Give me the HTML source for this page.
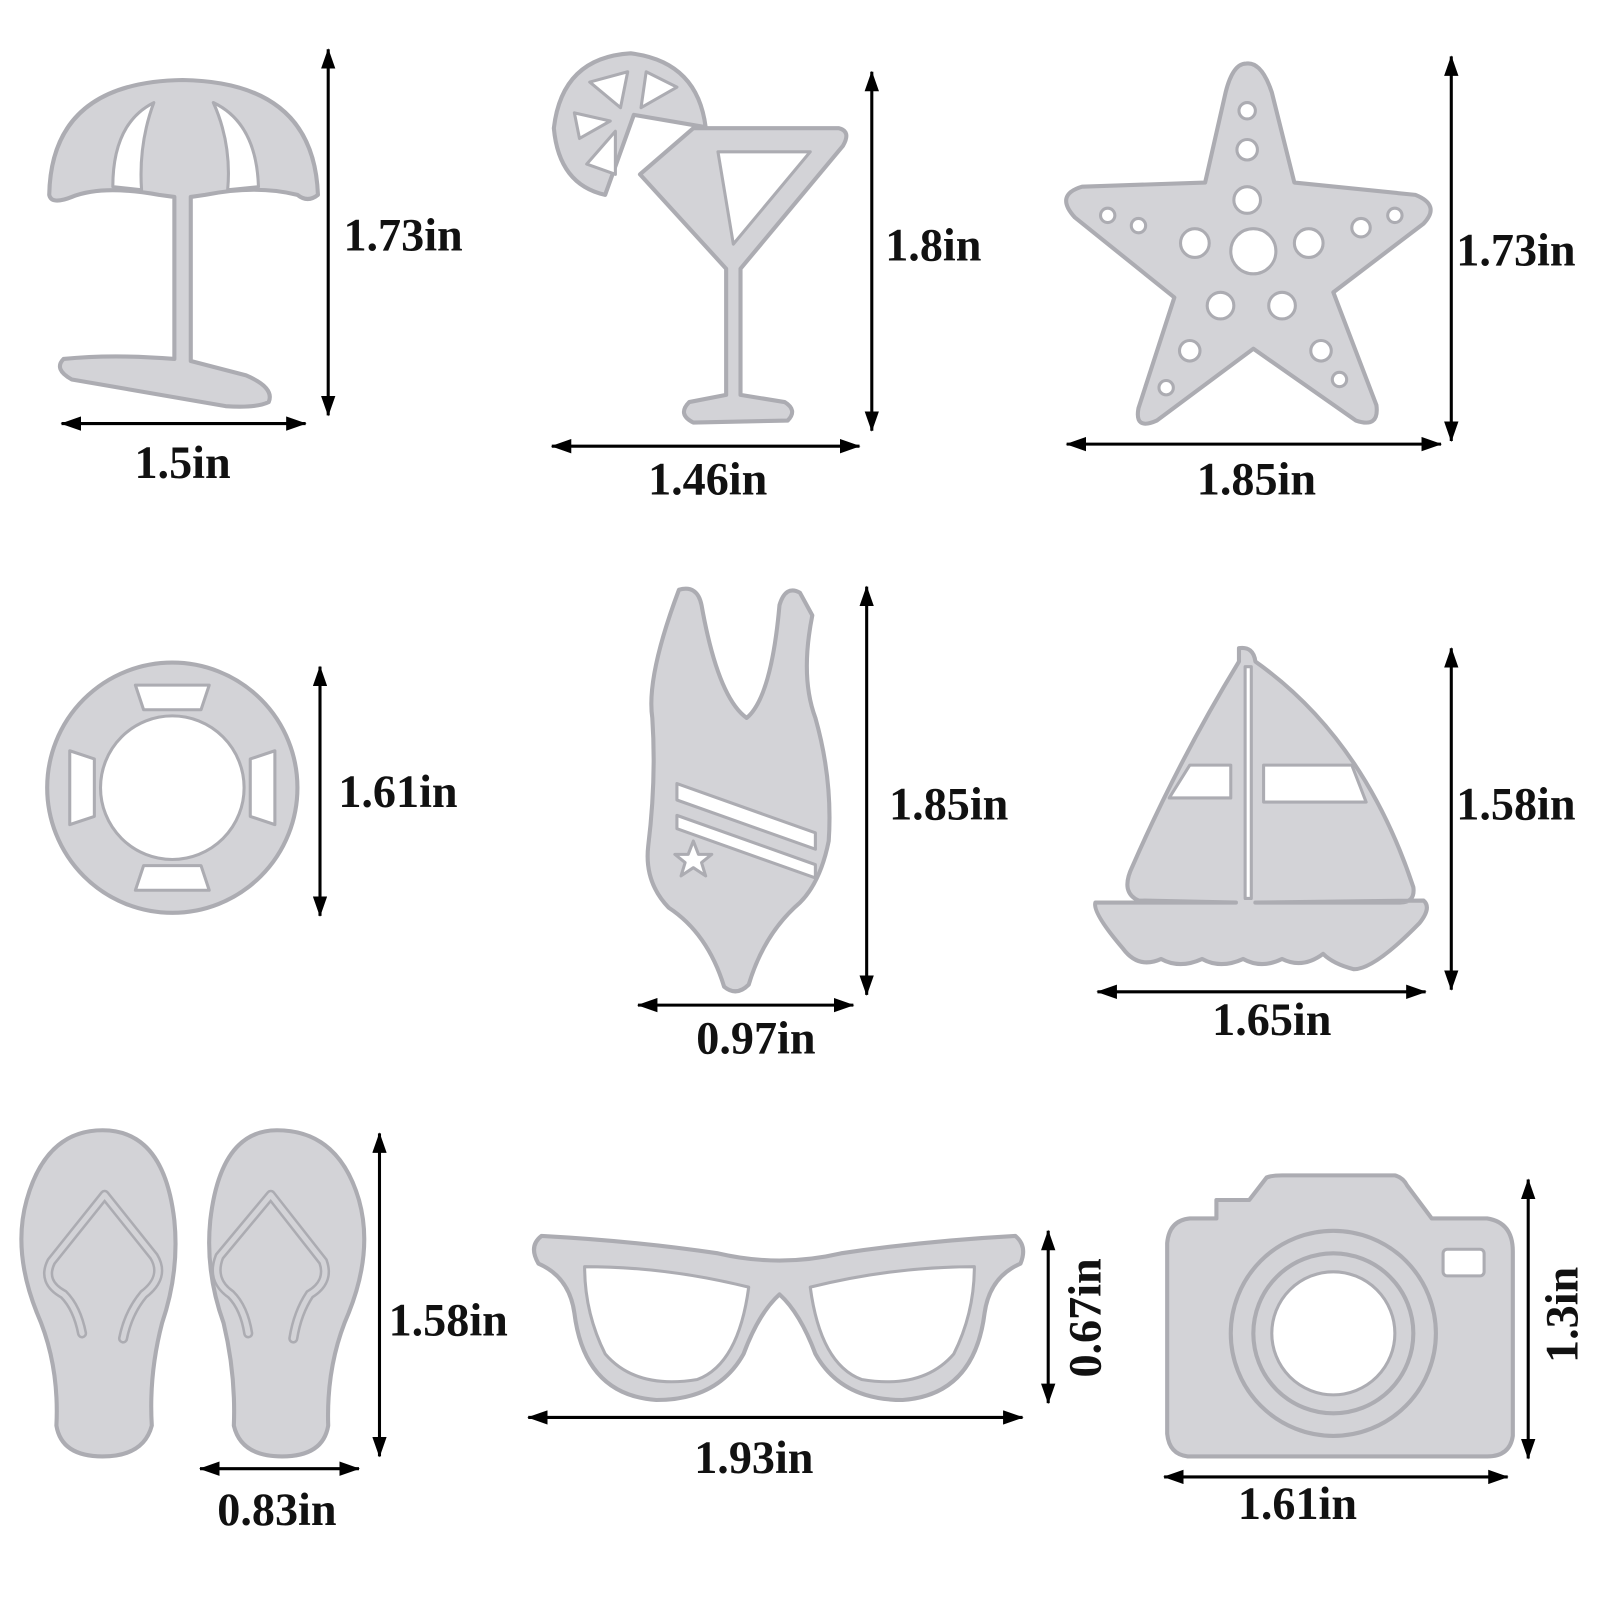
<!DOCTYPE html>
<html><head><meta charset="utf-8"><style>
html,body{margin:0;padding:0;background:#fff;}
svg{display:block;}
text{font-family:"Liberation Serif",serif;font-weight:bold;font-size:45px;fill:#111;text-anchor:middle;}
.m{fill:#d3d3d7;stroke:#acacb2;stroke-width:4;stroke-linejoin:round;}
.h{fill:#fff;stroke:#acacb2;stroke-width:3;stroke-linejoin:round;}
.l{stroke:#000;stroke-width:3;}
</style></head><body>
<svg width="1600" height="1600" viewBox="0 0 1560 1560" xmlns="http://www.w3.org/2000/svg">
<defs>
<marker id="a" viewBox="0 0 20 14" refX="19" refY="7" markerWidth="20" markerHeight="14" markerUnits="userSpaceOnUse" orient="auto-start-reverse"><path d="M0,0 L20,7 L0,14 Z" fill="#000"/></marker>
</defs>
<!-- umbrella -->
<path class="m" d="M48,190 Q50,80 178,78 Q306,80 310,190 Q300,198 290,190 Q250,180 200,190 L186,192 L186,352 L240,366 Q268,378 262,392 Q250,398 220,396 L70,370 Q52,360 62,350 Q110,345 170,350 L170,192 L155,190 Q100,180 70,192 Q50,200 48,190 Z"/>
<path class="h" d="M110,182 Q110,120 150,100 Q135,140 138,185 Z"/>
<path class="h" d="M222,185 Q226,140 208,100 Q250,120 252,182 Z"/>
<!-- cocktail -->
<path class="m" d="M676,125 L818,125 Q830,128 822,142 L722,262 L722,385 L765,392 Q778,400 768,410 L676,412 Q660,404 672,392 L708,385 L708,262 L624,170 L676,125 Z"/>
<path class="h" d="M700,148 L790,148 L715,238 Z"/>
<path class="m" d="M618,112 L688,124 Q680,60 615,52 Q548,56 540,125 Q545,180 590,190 Z"/>
<path class="h" d="M612,70 L605,105 L575,80 Z M630,70 L660,85 L625,105 Z M560,110 L595,118 L565,135 Z M572,160 L600,128 L600,170 Z"/>
<!-- starfish -->
<path class="m" d="M1215,62 Q1230,60 1240,90 L1262,178 L1380,190 Q1405,200 1388,218 L1300,285 L1342,395 Q1345,418 1322,410 L1222,340 L1128,410 Q1106,420 1110,398 L1145,290 L1048,212 Q1028,190 1055,182 L1175,178 L1195,90 Q1202,62 1215,62 Z"/>
<g class="h"><circle cx="1216" cy="108" r="8"/><circle cx="1216" cy="146" r="10"/><circle cx="1216" cy="195" r="13"/><circle cx="1222" cy="245" r="22"/><circle cx="1165" cy="237" r="14"/><circle cx="1276" cy="237" r="14"/><circle cx="1190" cy="298" r="13"/><circle cx="1250" cy="298" r="13"/><circle cx="1160" cy="342" r="10"/><circle cx="1288" cy="342" r="10"/><circle cx="1137" cy="378" r="7"/><circle cx="1306" cy="370" r="7"/><circle cx="1080" cy="210" r="7"/><circle cx="1110" cy="220" r="7"/><circle cx="1327" cy="222" r="9"/><circle cx="1360" cy="210" r="7"/></g>
<!-- life ring -->
<circle class="m" cx="168" cy="768" r="122"/>
<circle class="h" cx="168" cy="768" r="70"/>
<path class="h" d="M132,668 L204,668 L196,692 L140,692 Z M132,868 L204,868 L196,844 L140,844 Z M68,732 L68,804 L92,796 L92,740 Z M268,732 L268,804 L244,796 L244,740 Z"/>
<!-- swimsuit -->
<path class="m" d="M662,575 Q680,570 684,590 Q700,680 728,700 Q752,680 760,590 Q766,570 780,578 L792,600 Q780,660 795,700 Q812,760 808,820 Q800,860 780,880 Q745,910 730,960 Q718,972 706,962 Q690,910 652,885 Q628,860 632,825 Q640,760 636,700 Q630,660 662,575 Z"/>
<path class="h" d="M660,780 L660,764 L795,812 L795,828 Z M660,808 L660,795 L795,843 L795,856 Z"/>
<path class="h" d="M676,820 L681,833 L694,833 L684,841 L688,854 L676,846 L664,854 L668,841 L658,833 L671,833 Z"/>
<!-- sailboat -->
<path class="m" d="M1208,632 Q1222,630 1224,645 Q1330,720 1378,865 Q1380,880 1365,880 L1224,880 L1388,878 Q1396,885 1384,900 Q1340,945 1320,945 Q1300,940 1290,930 Q1270,945 1250,935 Q1230,945 1212,935 Q1190,945 1172,935 Q1150,945 1132,935 Q1110,945 1095,925 Q1065,890 1068,880 L1205,880 L1110,878 Q1092,870 1104,845 Q1150,740 1208,645 Z"/>
<path class="h" d="M1214,650 L1220,650 L1220,876 L1214,876 Z"/>
<path class="h" d="M1160,746 L1200,746 L1200,778 L1140,778 Z M1232,746 L1318,746 L1332,782 L1232,782 Z"/>
<!-- flip flops -->
<path class="m" d="M100,1102 Q160,1102 170,1190 Q175,1240 158,1290 Q145,1340 148,1390 Q140,1420 100,1420 Q60,1420 55,1390 Q58,1330 36,1280 Q12,1220 26,1170 Q45,1102 100,1102 Z"/>
<path class="m" d="M270,1102 Q215,1102 205,1190 Q200,1240 218,1290 Q230,1340 228,1390 Q235,1420 275,1420 Q315,1420 320,1390 Q318,1330 340,1280 Q364,1220 350,1170 Q330,1102 270,1102 Z"/>
<path fill="none" stroke="#acacb2" stroke-width="10" stroke-linecap="round" d="M102,1165 L50,1230 Q40,1250 62,1262 Q75,1275 80,1300 M102,1165 L150,1225 Q162,1245 140,1262 Q125,1280 120,1305 M264,1165 L214,1225 Q205,1248 225,1262 Q238,1275 242,1300 M264,1165 L315,1230 Q322,1250 302,1262 Q290,1280 286,1305"/>
<path fill="none" stroke="#d3d3d7" stroke-width="5" stroke-linecap="round" d="M102,1165 L50,1230 Q40,1250 62,1262 Q75,1275 80,1300 M102,1165 L150,1225 Q162,1245 140,1262 Q125,1280 120,1305 M264,1165 L214,1225 Q205,1248 225,1262 Q238,1275 242,1300 M264,1165 L315,1230 Q322,1250 302,1262 Q290,1280 286,1305"/>
<!-- glasses -->
<path class="m" d="M528,1205 Q620,1210 700,1222 Q760,1236 820,1222 Q900,1210 990,1205 Q1002,1215 995,1232 Q965,1245 960,1280 Q950,1360 880,1365 Q820,1365 795,1320 Q780,1280 760,1262 Q740,1280 725,1320 Q700,1365 640,1365 Q570,1360 560,1280 Q555,1245 525,1232 Q515,1215 528,1205 Z"/>
<path class="h" d="M570,1235 Q650,1235 730,1255 Q720,1330 680,1345 Q620,1355 590,1320 Q570,1280 570,1235 Z"/>
<path class="h" d="M950,1235 Q870,1235 790,1255 Q800,1330 840,1345 Q900,1355 930,1320 Q950,1280 950,1235 Z"/>
<!-- camera -->
<path class="m" d="M1160,1188 L1186,1188 L1186,1170 L1218,1170 L1235,1148 Q1240,1146 1250,1146 L1360,1146 Q1368,1148 1372,1156 L1396,1188 L1450,1188 Q1475,1192 1475,1220 L1475,1400 Q1472,1420 1450,1420 L1158,1420 Q1140,1418 1138,1398 L1138,1212 Q1140,1190 1160,1188 Z"/>
<circle cx="1300" cy="1300" r="100" fill="none" stroke="#acacb2" stroke-width="4"/>
<circle cx="1300" cy="1300" r="78" fill="none" stroke="#acacb2" stroke-width="4"/>
<circle class="h" cx="1300" cy="1300" r="60"/>
<rect class="h" x="1407" y="1218" width="40" height="26" rx="4"/>
<!-- dimension arrows -->
<g class="l">
<line x1="320" y1="48" x2="320" y2="405" marker-start="url(#a)" marker-end="url(#a)"/>
<line x1="60" y1="413" x2="298" y2="413" marker-start="url(#a)" marker-end="url(#a)"/>
<line x1="850" y1="70" x2="850" y2="420" marker-start="url(#a)" marker-end="url(#a)"/>
<line x1="538" y1="435" x2="838" y2="435" marker-start="url(#a)" marker-end="url(#a)"/>
<line x1="1415" y1="55" x2="1415" y2="430" marker-start="url(#a)" marker-end="url(#a)"/>
<line x1="1040" y1="433" x2="1405" y2="433" marker-start="url(#a)" marker-end="url(#a)"/>
<line x1="312" y1="650" x2="312" y2="893" marker-start="url(#a)" marker-end="url(#a)"/>
<line x1="845" y1="572" x2="845" y2="970" marker-start="url(#a)" marker-end="url(#a)"/>
<line x1="622" y1="980" x2="832" y2="980" marker-start="url(#a)" marker-end="url(#a)"/>
<line x1="1415" y1="632" x2="1415" y2="965" marker-start="url(#a)" marker-end="url(#a)"/>
<line x1="1070" y1="967" x2="1390" y2="967" marker-start="url(#a)" marker-end="url(#a)"/>
<line x1="370" y1="1105" x2="370" y2="1420" marker-start="url(#a)" marker-end="url(#a)"/>
<line x1="195" y1="1432" x2="350" y2="1432" marker-start="url(#a)" marker-end="url(#a)"/>
<line x1="1022" y1="1200" x2="1022" y2="1368" marker-start="url(#a)" marker-end="url(#a)"/>
<line x1="515" y1="1382" x2="997" y2="1382" marker-start="url(#a)" marker-end="url(#a)"/>
<line x1="1490" y1="1150" x2="1490" y2="1422" marker-start="url(#a)" marker-end="url(#a)"/>
<line x1="1135" y1="1440" x2="1470" y2="1440" marker-start="url(#a)" marker-end="url(#a)"/>
</g>
<text x="393" y="244">1.73in</text>
<text x="178" y="466">1.5in</text>
<text x="910" y="254">1.8in</text>
<text x="690" y="482">1.46in</text>
<text x="1478" y="259">1.73in</text>
<text x="1225" y="482">1.85in</text>
<text x="388" y="787">1.61in</text>
<text x="925" y="799">1.85in</text>
<text x="737" y="1027">0.97in</text>
<text x="1478" y="799">1.58in</text>
<text x="1240" y="1009">1.65in</text>
<text x="437" y="1302">1.58in</text>
<text x="270" y="1487">0.83in</text>
<text x="735" y="1436">1.93in</text>
<text x="1265" y="1481">1.61in</text>
<text transform="translate(1073,1285) rotate(-90)">0.67in</text>
<text transform="translate(1538,1282) rotate(-90)">1.3in</text>
</svg>
</body></html>
